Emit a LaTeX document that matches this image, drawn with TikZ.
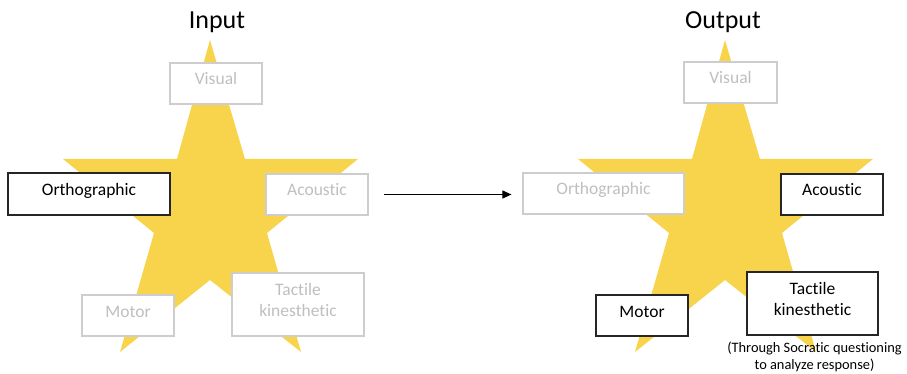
\documentclass[tikz,border=0pt]{standalone}
\usepackage{fontspec}
\setmainfont{Carlito}[Ligatures=NoCommon]
\usetikzlibrary{arrows.meta}
\definecolor{stargold}{RGB}{247,212,76}
\definecolor{dimtext}{RGB}{191,191,191}
\definecolor{dimline}{RGB}{205,205,205}
\definecolor{darkline}{RGB}{38,38,38}
\tikzset{
  box/.style={rectangle, inner sep=0pt, fill=white, align=center,
    font=\fontsize{17.5}{21}\selectfont},
  oneline/.style={text height=11pt, text depth=8pt},
  dimbox/.style={box, draw=dimline, line width=1.2pt, text=dimtext},
  activebox/.style={box, draw=darkline, line width=1.4pt, text=black},
  title/.style={anchor=base, font=\fontsize{26}{30}\selectfont},
  note/.style={align=center, font=\fontsize{14.4}{17.6}\selectfont},
  flow/.style={line width=0.9pt, -{Triangle[length=9pt,width=8pt]},
    shorten <=15pt, shorten >=11pt}
}
\newcommand{\lowpad}{\rule[-10pt]{0pt}{10pt}}
\begin{document}
\begin{tikzpicture}[x=1pt,y=-1pt]
\useasboundingbox (0,0) rectangle (907,374);

% five-pointed star behind each group of boxes
\fill[stargold] (210,40) -- (245,159) -- (358,159) -- (267,233) -- (301,352)
  -- (210,280) -- (120,352) -- (154,233) -- (63,159) -- (177,159) -- cycle;
\begin{scope}[xshift=515pt]
\fill[stargold] (210,40) -- (245,159) -- (358,159) -- (267,233) -- (301,352)
  -- (210,280) -- (120,352) -- (154,233) -- (63,159) -- (177,159) -- cycle;
\end{scope}

% titles
\node[title] (inTitle) at (217,29) {Input};
\node[title] (outTitle) at (723,29) {Output};

% input side
\node[dimbox, oneline, minimum width=92pt, minimum height=41pt] (visL) at (216,83.5) {Visual};
\node[activebox, oneline, minimum width=162pt, minimum height=42pt] (orthL) at (89,194) {Orthographic};
\node[dimbox, oneline, minimum width=102pt, minimum height=41pt] (accL) at (317,194.5) {Acoustic};
\node[dimbox, oneline, minimum width=92pt, minimum height=41pt] (motL) at (128,315.5) {Motor};
\node[dimbox, minimum width=132pt, minimum height=63pt] (tacL) at (298,304.5) {Tactile\\kinesthetic\lowpad};

% output side
\node[dimbox, oneline, minimum width=93pt, minimum height=41pt] (visR) at (730.5,82.5) {Visual};
\node[dimbox, oneline, minimum width=161pt, minimum height=41pt] (orthR) at (603.5,193.5) {Orthographic};
\node[activebox, oneline, minimum width=102pt, minimum height=41pt] (accR) at (832,194.5) {Acoustic};
\node[activebox, oneline, minimum width=92pt, minimum height=41pt] (motR) at (642,315.5) {Motor};
\node[activebox, minimum width=131pt, minimum height=63pt] (tacR) at (812.5,303.5) {Tactile\\kinesthetic\lowpad};
\node[note] (socratic) at (814.5,357) {(Through Socratic questioning\\to analyze response)};

% transition arrow
\draw[flow] (accL.east) -- (accL.east -| orthR.west);
\end{tikzpicture}
\end{document}
